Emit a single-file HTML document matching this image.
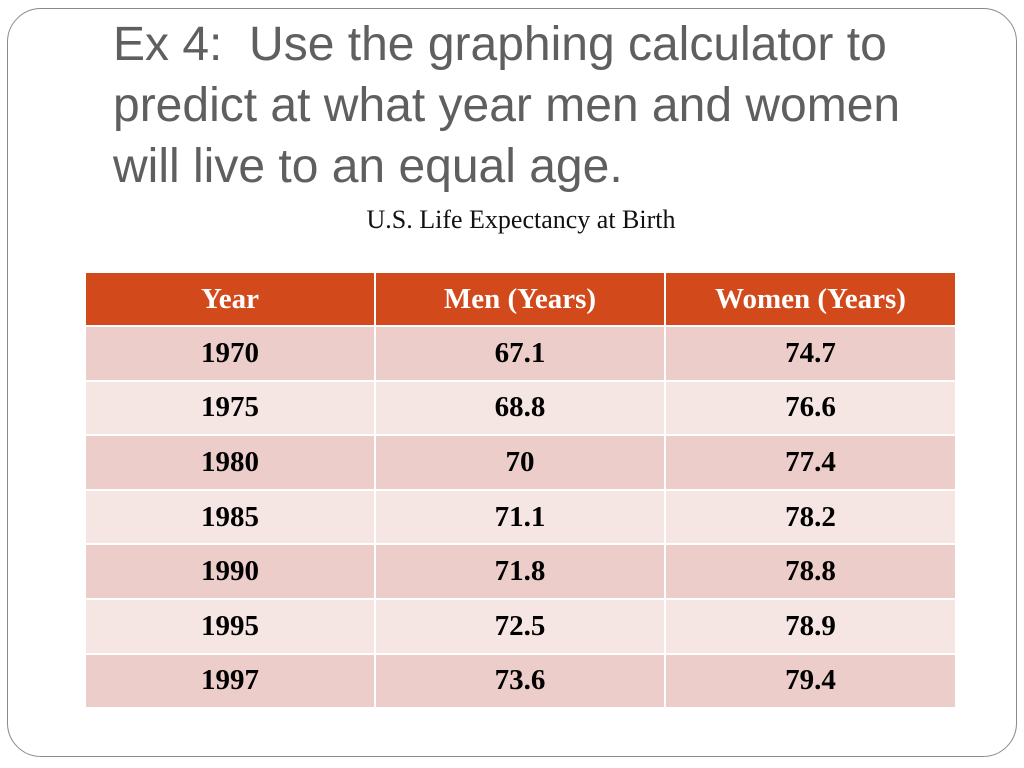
<!DOCTYPE html>
<html><head><meta charset="utf-8"><style>
body{margin:0;width:1024px;height:768px;background:#fff;position:relative;overflow:hidden;font-family:"Liberation Serif",serif}
#frame{position:absolute;left:7px;top:8px;width:1008px;height:747px;border:1.5px solid #8a8a8a;border-radius:34px}
#title{position:absolute;left:113px;top:14px;width:820px;font-family:"Liberation Sans",sans-serif;font-size:48px;line-height:61px;color:#5f5f5f}
#cap{position:absolute;left:0;width:1042px;text-align:center;top:205px;font-size:26px;color:#111}
.c{position:absolute;display:flex;align-items:center;justify-content:center;font-weight:bold;font-size:29px}
</style></head><body>
<div id="frame"></div>
<div id="title">Ex 4:&nbsp; Use the graphing calculator to predict at what year men and women will live to an equal age.</div>
<div id="cap">U.S. Life Expectancy at Birth</div>
<div id="tbl"></div>
<script>
const headers=["Year","Men (Years)","Women (Years)"];
const years=["1970","1975","1980","1985","1990","1995","1997"];
const men=["67.1","68.8","70","71.1","71.8","72.5","73.6"];
const women=["74.7","76.6","77.4","78.2","78.8","78.9","79.4"];
const tbl=document.getElementById('tbl');
const colX=[86,376,666,955];
function cell(txt,ci,y,h,bg,color,name){
  const d=document.createElement('div');
  d.className='c';
  d.style.left=colX[ci]+'px';
  d.style.width=(colX[ci+1]-colX[ci]-(ci<2?2:0))+'px';
  d.style.top=y+'px';d.style.height=h+'px';
  d.style.background=bg;d.style.color=color;
  d.textContent=txt;
  
  
  tbl.appendChild(d);
}
headers.forEach((h,i)=>cell(h,i,273,52,'#d24a1c','#fff','header-cell'));
years.forEach((y,r)=>{
  const top=327+r*54.6, bg=r%2==0?'#eccdc9':'#f5e6e4';
  cell(y,0,top,52.6,bg,'#000','year-cell');
  cell(men[r],1,top,52.6,bg,'#000','men-cell');
  cell(women[r],2,top,52.6,bg,'#000','women-cell');
});
</script>
</body></html>
